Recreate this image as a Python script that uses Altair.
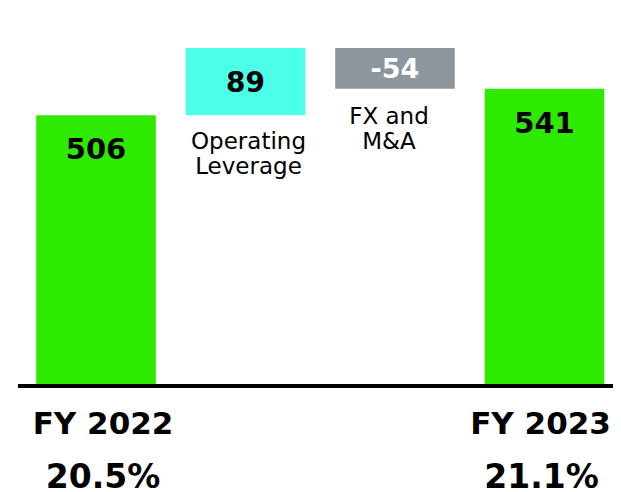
import altair as alt
import pandas as pd

# data
categories = ["FY 2022", "Operating Leverage", "FX and M&A", "FY 2023"]
kinds = ["total", "delta", "delta", "total"]
values = [506, 89, -54, 541]
starts = [0, 506, 595, 0]
ends = [506, 595, 541, 541]
value_labels = ["506", "89", "-54", "541"]
names = ["FY 2022", "Operating\nLeverage", "FX and\nM&A", "FY 2023"]
margins = ["20.5%", "", "", "21.1%"]
colors = ["#2EEA00", "#4CFFE8", "#8E969D", "#2EEA00"]

df = pd.DataFrame({
    "cat": categories, "kind": kinds, "value": values, "start": starts,
    "end": ends, "vlabel": value_labels, "name": names, "margin": margins,
    "color": colors,
})

FONT = "DejaVu Sans"
W, H = 592, 376

x = alt.X("cat:N", sort=categories, axis=None,
          scale=alt.Scale(paddingInner=0.2, paddingOuter=0.08, align=0.636))
yscale = alt.Scale(domain=[150, 648], zero=False, clamp=True, nice=False)

base = alt.Chart(df).encode(x=x)

bars = base.mark_bar().encode(
    y=alt.Y("start:Q", scale=yscale, axis=None),
    y2="end:Q",
    color=alt.Color("color:N", scale=None),
)

total_vals = base.transform_filter("datum.kind == 'total'").mark_text(
    font=FONT, fontSize=29, fontWeight="bold", color="black",
    baseline="middle", dy=35,
).encode(y=alt.Y("end:Q", scale=yscale), text="vlabel:N")

pos_val = base.transform_filter("datum.value > 0 && datum.kind == 'delta'").transform_calculate(
    mid="(datum.start + datum.end) / 2"
).mark_text(
    font=FONT, fontSize=28, fontWeight="bold", color="black", baseline="middle", dy=2,
).encode(y=alt.Y("mid:Q", scale=yscale), text="vlabel:N")

neg_val = base.transform_filter("datum.value < 0").transform_calculate(
    mid="(datum.start + datum.end) / 2"
).mark_text(
    font=FONT, fontSize=27, fontWeight="bold", color="white", baseline="middle", dy=2,
).encode(y=alt.Y("mid:Q", scale=yscale), text="vlabel:N")

op_name = base.transform_filter("datum.cat == 'Operating Leverage'").transform_calculate(
    low="min(datum.start, datum.end)"
).mark_text(
    font=FONT, fontSize=23, color="black", baseline="alphabetic", dy=34, dx=3,
    lineBreak="\n", lineHeight=25,
).encode(y=alt.Y("low:Q", scale=yscale), text="name:N")

fx_name = base.transform_filter("datum.cat == 'FX and M&A'").transform_calculate(
    low="min(datum.start, datum.end)"
).mark_text(
    font=FONT, fontSize=23, color="black", baseline="alphabetic", dy=35, dx=-6,
    lineBreak="\n", lineHeight=25,
).encode(y=alt.Y("low:Q", scale=yscale), text="name:N")

fy22 = base.transform_filter("datum.cat == 'FY 2022'")
fy23 = base.transform_filter("datum.cat == 'FY 2023'")

fy22_name = fy22.mark_text(font=FONT, fontSize=31, fontWeight="bold", color="black",
                           baseline="alphabetic", dy=50, dx=7).encode(
    y=alt.value(H), text="name:N")
fy23_name = fy23.mark_text(font=FONT, fontSize=31, fontWeight="bold", color="black",
                           baseline="alphabetic", dy=50, dx=-4).encode(
    y=alt.value(H), text="name:N")
fy22_m = fy22.mark_text(font=FONT, fontSize=33, fontWeight="bold", color="black",
                        baseline="alphabetic", dy=104, dx=7).encode(
    y=alt.value(H), text="margin:N")
fy23_m = fy23.mark_text(font=FONT, fontSize=33, fontWeight="bold", color="black",
                        baseline="alphabetic", dy=104, dx=-3).encode(
    y=alt.value(H), text="margin:N")

baseline_rule = alt.Chart(df).mark_rule(color="black", strokeWidth=3.6).encode(
    x=alt.value(-3), x2=alt.value(W), y=alt.value(H + 1.85)
)

chart = alt.layer(
    bars, baseline_rule, total_vals, pos_val, neg_val, op_name, fx_name,
    fy22_name, fy23_name, fy22_m, fy23_m,
).properties(
    width=W, height=H,
    background="white",
    autosize=alt.AutoSizeParams(type="none"),
    padding={"left": 13, "top": 0, "right": 0, "bottom": 106},
).configure_view(stroke=None)

chart.save("out.html", embed_options={"renderer": "svg", "actions": False})
